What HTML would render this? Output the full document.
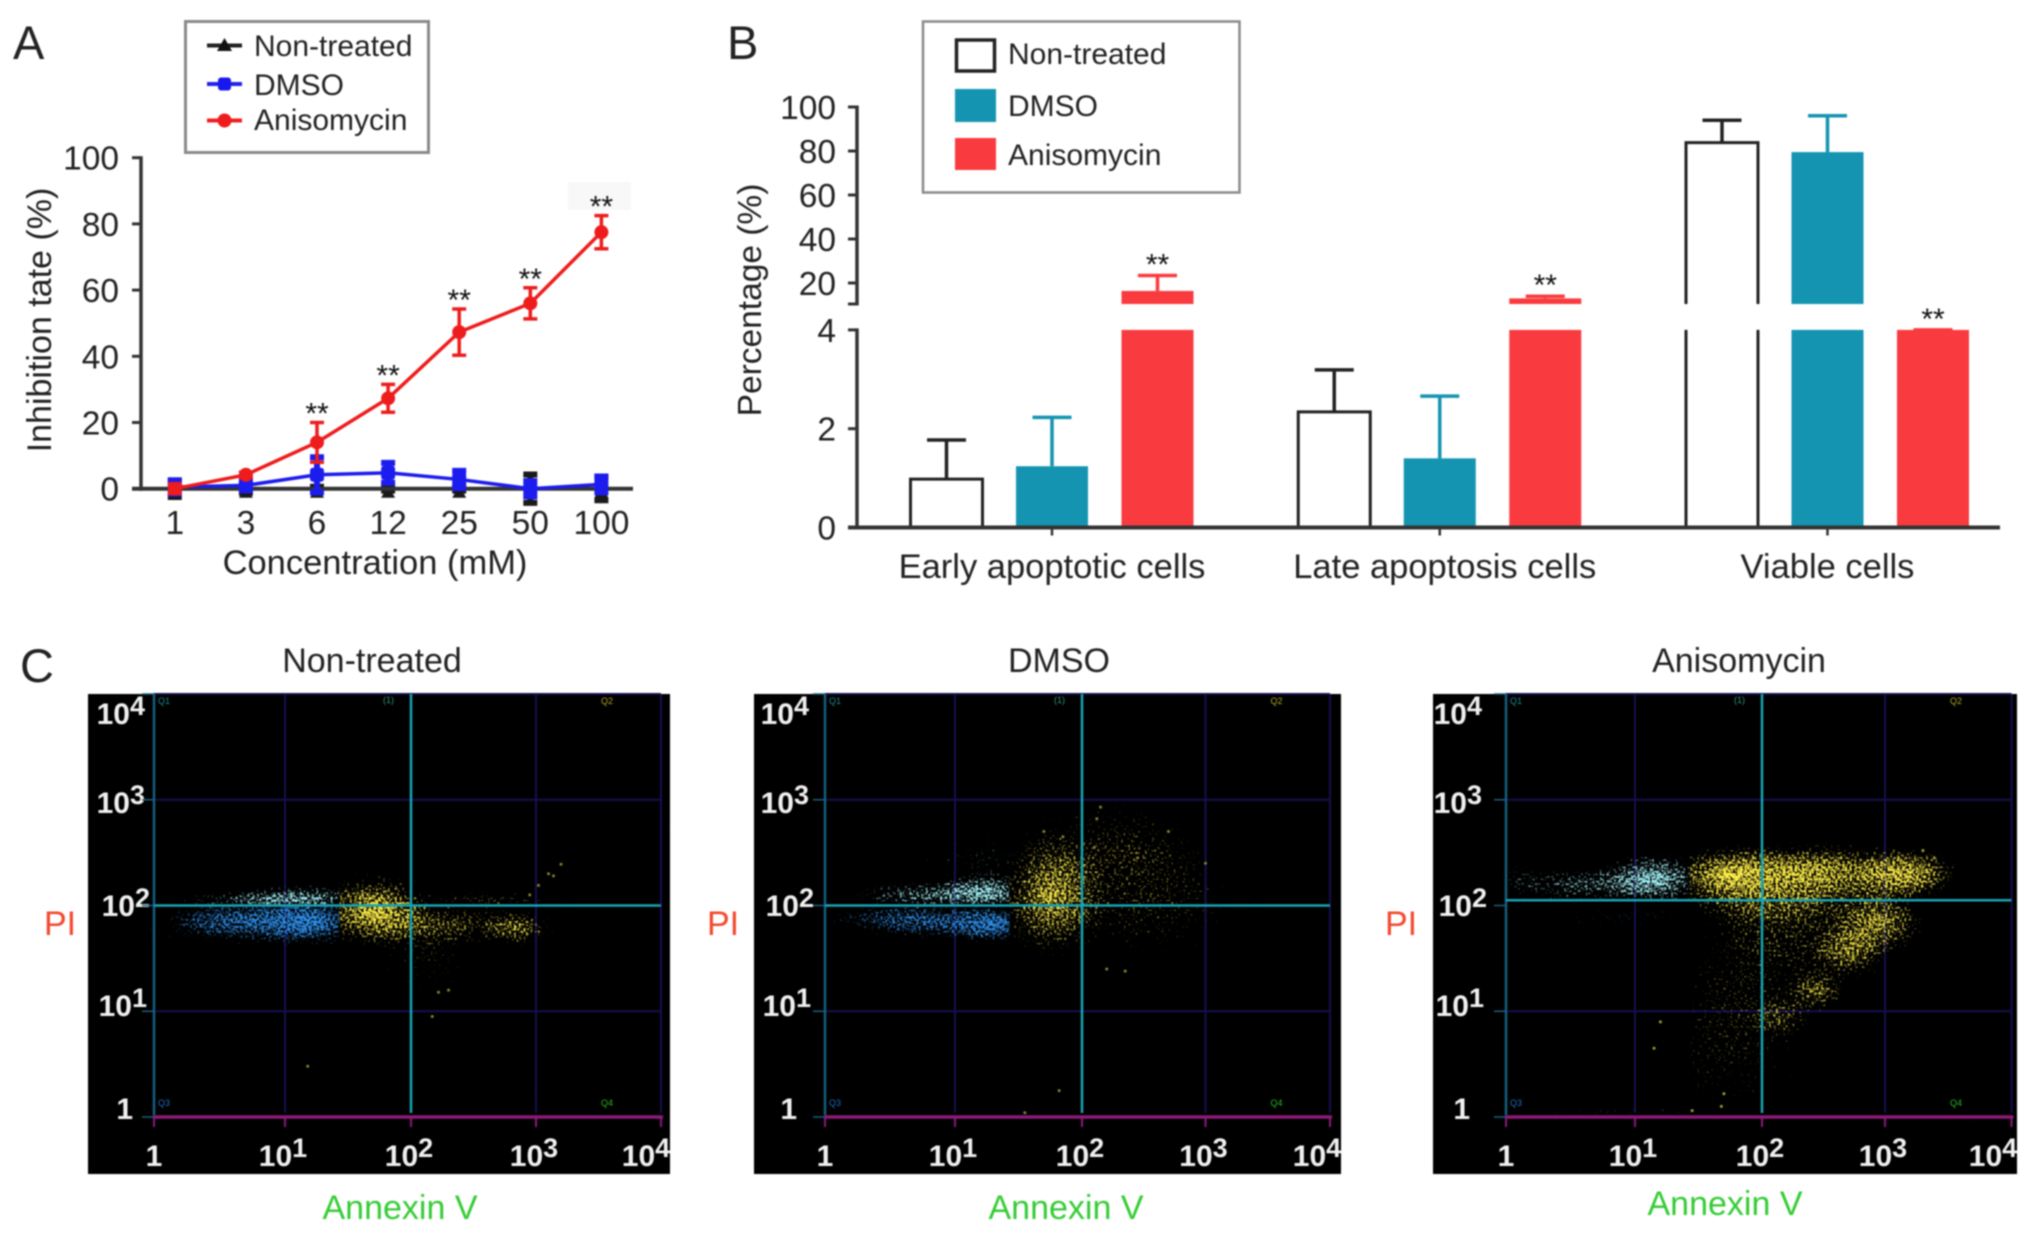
<!DOCTYPE html>
<html lang="en">
<head>
<meta charset="utf-8">
<title>Anisomycin inhibition and apoptosis figure</title>
<style>
html,body{margin:0;padding:0;background:#fff;width:2032px;height:1234px;overflow:hidden}
#figure{display:block;filter:blur(0.9px)}
text{font-family:"Liberation Sans",sans-serif;fill:#222}
.axis-title{font-size:34.5px}
.tick{font-size:33.5px}
.legend-a{font-size:30px}
.legend-b{font-size:30px}
.letter{font-size:47px}
.flow-tick{font-size:30px;font-weight:bold;fill:#f0f0f0}
.pi{font-size:34px;fill:#f2492e}
.annexin{font-size:34px;fill:#35cc35}
.stars{font-size:30px;fill:#111;text-anchor:middle}
</style>
</head>
<body>
<svg id="figure" xmlns="http://www.w3.org/2000/svg" width="2032" height="1234" viewBox="0 0 2032 1234">
<defs>
<radialGradient id="grad-density"><stop offset="0" stop-color="#fff"/><stop offset="0.5" stop-color="#fff" stop-opacity="0.62"/><stop offset="1" stop-color="#fff" stop-opacity="0"/></radialGradient>
<filter id="speckle-blue" filterUnits="userSpaceOnUse" x="0" y="0" width="2032" height="1234" color-interpolation-filters="sRGB">
<feTurbulence type="fractalNoise" baseFrequency="0.42" numOctaves="1" seed="7" result="noise"/>
<feColorMatrix in="noise" type="matrix" values="0 0 0 0 1  0 0 0 0 1  0 0 0 0 1  1 0 0 0 0" result="n"/>
<feComposite in="SourceGraphic" in2="n" operator="arithmetic" k1="0" k2="0.55" k3="1" k4="-0.8" result="sum"/>
<feComponentTransfer in="sum" result="mask"><feFuncA type="linear" slope="4"/></feComponentTransfer>
<feFlood flood-color="#2a86dc" result="ink"/>
<feComposite in="ink" in2="mask" operator="in" result="dots"/>
<feComposite in="dots" in2="SourceGraphic" operator="arithmetic" k1="0.4" k2="0.7" k3="0" k4="0"/>
</filter>
<filter id="speckle-cyan" filterUnits="userSpaceOnUse" x="0" y="0" width="2032" height="1234" color-interpolation-filters="sRGB">
<feTurbulence type="fractalNoise" baseFrequency="0.42" numOctaves="1" seed="11" result="noise"/>
<feColorMatrix in="noise" type="matrix" values="0 0 0 0 1  0 0 0 0 1  0 0 0 0 1  1 0 0 0 0" result="n"/>
<feComposite in="SourceGraphic" in2="n" operator="arithmetic" k1="0" k2="0.55" k3="1" k4="-0.8" result="sum"/>
<feComponentTransfer in="sum" result="mask"><feFuncA type="linear" slope="4"/></feComponentTransfer>
<feFlood flood-color="#9be8ee" result="ink"/>
<feComposite in="ink" in2="mask" operator="in" result="dots"/>
<feComposite in="dots" in2="SourceGraphic" operator="arithmetic" k1="0.4" k2="0.7" k3="0" k4="0"/>
</filter>
<filter id="speckle-yellow" filterUnits="userSpaceOnUse" x="0" y="0" width="2032" height="1234" color-interpolation-filters="sRGB">
<feTurbulence type="fractalNoise" baseFrequency="0.42" numOctaves="1" seed="3" result="noise"/>
<feColorMatrix in="noise" type="matrix" values="0 0 0 0 1  0 0 0 0 1  0 0 0 0 1  1 0 0 0 0" result="n"/>
<feComposite in="SourceGraphic" in2="n" operator="arithmetic" k1="0" k2="0.55" k3="1" k4="-0.8" result="sum"/>
<feComponentTransfer in="sum" result="mask"><feFuncA type="linear" slope="4"/></feComponentTransfer>
<feFlood flood-color="#f2e244" result="ink"/>
<feComposite in="ink" in2="mask" operator="in" result="dots"/>
<feComposite in="dots" in2="SourceGraphic" operator="arithmetic" k1="0.4" k2="0.7" k3="0" k4="0"/>
</filter>
</defs>

<rect x="0" y="0" width="2032" height="1234" fill="#fff"/>

<text class="letter" x="13" y="59">A</text>
<text class="letter" x="727" y="59">B</text>
<text class="letter" x="20" y="682">C</text>

<rect x="568" y="182" width="63" height="28" fill="#f8f8f8"/>
<g id="panel-a"></g>
<text class="axis-title" x="375" y="574" text-anchor="middle">Concentration (mM)</text>
<text class="axis-title" transform="translate(51 320) rotate(-90)" text-anchor="middle" style="font-size:34px">Inhibition tate (%)</text>

<g>
<rect x="185.5" y="21.5" width="243" height="131" fill="#fff" stroke="#8a8a8a" stroke-width="3"/>
<line x1="207" x2="242" y1="45.5" y2="45.5" stroke="#222" stroke-width="4"/>
<polygon points="224.5,38 232,51 217,51" fill="#111"/>
<text class="legend-a" x="254" y="56">Non-treated</text>
<line x1="207" x2="242" y1="84" y2="84" stroke="#2222ee" stroke-width="4"/>
<rect x="218" y="77.5" width="13" height="13" rx="3" fill="#1818ee"/>
<text class="legend-a" x="254" y="95">DMSO</text>
<line x1="207" x2="242" y1="120.5" y2="120.5" stroke="#f02020" stroke-width="4"/>
<circle cx="224.5" cy="120.5" r="7" fill="#ee1c1c"/>
<text class="legend-a" x="254" y="130">Anisomycin</text>
</g>

<g id="panel-b"></g>
<text class="axis-title" transform="translate(761 300) rotate(-90)" text-anchor="middle" style="font-size:33.5px">Percentage (%)</text>

<g>
<rect x="923" y="21.5" width="316.5" height="171" fill="#fff" stroke="#8a8a8a" stroke-width="2.5"/>
<rect x="956.5" y="40" width="38" height="31" fill="#fff" stroke="#222" stroke-width="3.5"/>
<text class="legend-b" x="1008" y="64">Non-treated</text>
<rect x="955" y="89" width="41" height="33" fill="#1494b0"/>
<text class="legend-b" x="1008" y="116">DMSO</text>
<rect x="955" y="138" width="41" height="32" fill="#f93b3f"/>
<text class="legend-b" x="1008" y="165">Anisomycin</text>
</g>

<g id="panel-c"></g>
<text class="axis-title" x="372" y="672" text-anchor="middle" style="font-size:34px">Non-treated</text>
<text class="axis-title" x="1059" y="672" text-anchor="middle" style="font-size:34px">DMSO</text>
<text class="axis-title" x="1739" y="672" text-anchor="middle" style="font-size:34px">Anisomycin</text>
<text class="pi" x="44" y="935">PI</text>
<text class="pi" x="707" y="935">PI</text>
<text class="pi" x="1385" y="935">PI</text>
<text class="annexin" x="400" y="1219" text-anchor="middle">Annexin V</text>
<text class="annexin" x="1066" y="1219" text-anchor="middle">Annexin V</text>
<text class="annexin" x="1725" y="1215" text-anchor="middle">Annexin V</text>
</svg>

<script>
/* ---------- Panel A data ---------- */
const concentrationLabels = ['1', '3', '6', '12', '25', '50', '100'];
const nonTreatedInhibition = [0, 0, 0, 0, 0, 0, 0];
const nonTreatedInhibitionError = [2.5, 1.2, 0.6, 0.6, 0.6, 4.3, 3.5];
const dmsoInhibition = [0.5, 1, 4.2, 4.8, 2.8, 0, 1.3];
const dmsoInhibitionError = [2, 1.5, 5.3, 3, 2.6, 2.3, 2.4];
const anisomycinInhibition = [0, 4.2, 14, 27.3, 47.3, 56, 77.5];
const anisomycinInhibitionError = [1.5, 0.8, 6, 4.2, 7, 4.7, 5];
const inhibitionSignificant = [false, false, true, true, true, true, true];
const inhibitionTicks = [0, 20, 40, 60, 80, 100];

/* ---------- Panel B data ---------- */
const cellCategories = ['Early apoptotic cells', 'Late apoptosis cells', 'Viable cells'];
const percentNonTreated = [0.98, 2.34, 83.8];
const percentNonTreatedError = [0.79, 0.85, 10.2];
const percentDmso = [1.24, 1.4, 79.5];
const percentDmsoError = [0.99, 1.26, 16.5];
const percentAnisomycin = [16.4, 13, 4];
const percentAnisomycinError = [7, 1, 0];
const percentLowerTicks = [0, 2, 4];
const percentUpperTicks = [20, 40, 60, 80, 100];

/* ---------- Panel C data: [log10 Annexin V, log10 PI, spread x, spread y, density] ---------- */
const flowExponents = [0, 1, 2, 3, 4];
const nonTreatedBlue = [[1.2,1.85,.25,.13,.95],[.75,1.85,.3,.12,.6],[.4,1.85,.25,.1,.25]];
const nonTreatedCyan = [[1.15,2.07,.3,.07,.6],[.7,2.05,.35,.05,.3]];
const nonTreatedYellow = [[1.7,1.95,.24,.18,.95],[2.35,1.82,.35,.1,.3],[2.85,1.78,.15,.09,.4],[2.6,2.05,.3,.04,.2],[2.1,1.6,.22,.22,.12]];
const nonTreatedSparse = [[2.95,2.1],[3.02,2.19],[3.1,2.3],[3.14,2.28],[3.2,2.39],[2.22,1.18],[2.3,1.2],[2.17,.95],[1.18,.48]];
const dmsoBlue = [[1.3,1.82,.2,.1,.85],[.85,1.85,.3,.1,.6],[.4,1.88,.25,.08,.25]];
const dmsoCyan = [[1.25,2.12,.22,.09,.8],[.75,2.1,.3,.07,.5],[1.2,2.4,.25,.15,.1]];
const dmsoYellow = [[1.75,2.08,.22,.3,.75],[2.5,2.1,.42,.32,.18],[2.2,2.6,.4,.22,.12]];
const dmsoSparse = [[2.15,2.93],[2.12,2.82],[1.7,2.7],[1.85,2.65],[2.7,2.7],[2.45,2.45],[3,2.4],[2.2,1.4],[2.35,1.38],[1.82,.25],[1.55,.04],[2.1,2.55]];
const anisoBlue = [[1,1.9,.4,.05,.12],[.9,.05,.6,.02,.12]];
const anisoCyan = [[1.15,2.25,.22,.13,.9],[.6,2.2,.3,.09,.4],[.1,2.25,.1,.1,.1]];
const anisoYellow = [[1.75,2.28,.28,.15,1],[2.3,2.3,.3,.16,.75],[2.9,2.3,.38,.15,.45],[3.15,2.3,.2,.12,.6],[2.95,1.85,.2,.16,.6],[2.7,1.55,.16,.13,.5],[2.45,1.2,.13,.11,.5],[2.15,.95,.13,.1,.25],[2.4,1.8,.4,.22,.22],[1.9,1.3,.3,.35,.14],[1.7,.6,.35,.3,.1],[2,2,.35,.1,.3]];
const anisoSparse = [[3.39,2.45],[3.3,2.52],[1.68,.1],[1.45,.06],[1.7,.22],[1.15,.65],[1.2,.9]];

/* ---------- helpers ---------- */
const SVG_NS = 'http://www.w3.org/2000/svg';
function make(tag, parent, attrs, content) {
  const node = document.createElementNS(SVG_NS, tag);
  for (const key in attrs) node.setAttribute(key, attrs[key]);
  if (content !== undefined) node.textContent = content;
  parent.appendChild(node);
  return node;
}

/* ---------- Panel A ---------- */
const panelA = document.getElementById('panel-a');
const yA = v => 488.7 - v * 3.31;
const xA = i => 174.8 + i * 71.1;

inhibitionTicks.forEach(t => {
  const tickMark = make('line', panelA, {x1: 132, x2: 141, y1: yA(t), y2: yA(t), stroke: '#333', 'stroke-width': 3});
  
  
  const tickLabel = make('text', panelA, {x: 119, y: yA(t) + 12, 'text-anchor': 'end', class: 'tick'}, String(t));
  
  
});
concentrationLabels.forEach((c, i) => {
  const tickLabel = make('text', panelA, {x: xA(i), y: 534, 'text-anchor': 'middle', class: 'tick'}, c);
  
  
});

function drawSeries(name, values, errors, color, marker, barStroke) {
  const group = make('g', panelA, {});
  
  
  const line = make('polyline', group, {
    points: values.map((v, i) => xA(i) + ',' + yA(v)).join(' '),
    fill: 'none', stroke: color, 'stroke-width': 3.5
  });
  
  
  values.forEach((v, i) => {
    const x = xA(i), lo = yA(v - errors[i]), hi = yA(v + errors[i]);
    const path = make('path', group, {
      d: 'M' + x + ' ' + lo + 'V' + hi + 'M' + (x - 7) + ' ' + hi + 'H' + (x + 7) + 'M' + (x - 7) + ' ' + lo + 'H' + (x + 7),
      fill: 'none', stroke: color, 'stroke-width': barStroke
    });
    
    
    let point;
    if (marker === 'circle') point = make('circle', group, {cx: x, cy: yA(v), r: 7, fill: color});
    else if (marker === 'square') point = make('rect', group, {x: x - 7, y: yA(v) - 7, width: 14, height: 14, rx: 3, fill: color});
    else point = make('polygon', group, {points: x + ',' + (yA(v) - 3) + ' ' + (x + 7) + ',' + (yA(v) + 9) + ' ' + (x - 7) + ',' + (yA(v) + 9), fill: color});
    
    
  });
}
drawSeries('non-treated', nonTreatedInhibition, nonTreatedInhibitionError, '#1a1a1a', 'triangle', 6);

const axisAY = make('line', panelA, {x1: 141, x2: 141, y1: yA(100) - 1.5, y2: yA(0) + 2, stroke: '#333', 'stroke-width': 3.5});


const axisAX = make('line', panelA, {x1: 132, x2: 633, y1: yA(0), y2: yA(0), stroke: '#333', 'stroke-width': 4});



drawSeries('dmso', dmsoInhibition, dmsoInhibitionError, '#1c1cee', 'square', 6);
drawSeries('anisomycin', anisomycinInhibition, anisomycinInhibitionError, '#ee1c1c', 'circle', 3.5);

anisomycinInhibition.forEach((v, i) => {
  if (!inhibitionSignificant[i]) return;
  const mark = make('text', panelA, {x: xA(i), y: yA(v + anisomycinInhibitionError[i]) - 16 + 17, class: 'stars'}, '**');
  
  
});

/* ---------- Panel B ---------- */
const panelB = document.getElementById('panel-b');
const BREAK_LOW = 4, BREAK_HIGH = 10.45;
const yB = v => v <= BREAK_LOW ? 527.5 - v * 49.4 : 107 + (100 - v) * 2.2;
const groupX = i => 1052 + i * 387.75;
const barWidth = 72;

percentLowerTicks.concat(percentUpperTicks).forEach(t => {
  const tickMark = make('line', panelB, {x1: 848, x2: 857, y1: yB(t), y2: yB(t), stroke: '#333', 'stroke-width': 3});
  
  
  const tickLabel = make('text', panelB, {x: 836, y: yB(t) + 12, 'text-anchor': 'end', class: 'tick'}, String(t));
  
  
});
const breakTick = make('line', panelB, {x1: 848, x2: 857, y1: yB(BREAK_HIGH), y2: yB(BREAK_HIGH), stroke: '#333', 'stroke-width': 3});


const axisBLower = make('line', panelB, {x1: 857, x2: 857, y1: yB(BREAK_LOW) - 1.5, y2: yB(0) + 2, stroke: '#333', 'stroke-width': 3.5});


const axisBUpper = make('line', panelB, {x1: 857, x2: 857, y1: yB(100) - 1.5, y2: yB(BREAK_HIGH) + 1.5, stroke: '#333', 'stroke-width': 3.5});



function drawBars(name, values, errors, offset, fill, outline) {
  values.forEach((v, i) => {
    const left = groupX(i) + offset - barWidth / 2;
    const right = left + barWidth;
    const center = left + barWidth / 2;
    const broken = v > BREAK_LOW;
    const lowerTop = yB(Math.min(v, BREAK_LOW));
    const lower = make('rect', panelB, {x: left, y: lowerTop, width: barWidth, height: yB(0) - lowerTop, fill: outline ? '#fff' : fill});
    
    
    if (broken) {
      const upper = make('rect', panelB, {x: left, y: yB(v), width: barWidth, height: yB(BREAK_HIGH) - yB(v), fill: outline ? '#fff' : fill});
      
      
    }
    if (outline) {
      const d = broken
        ? 'M' + left + ' ' + yB(0) + 'V' + yB(BREAK_LOW) + 'M' + right + ' ' + yB(0) + 'V' + yB(BREAK_LOW) +
          'M' + left + ' ' + yB(BREAK_HIGH) + 'V' + yB(v) + 'H' + right + 'V' + yB(BREAK_HIGH)
        : 'M' + left + ' ' + yB(0) + 'V' + yB(v) + 'H' + right + 'V' + yB(0);
      const border = make('path', panelB, {d: d, fill: 'none', stroke: '#222', 'stroke-width': 3});
      
      
    }
    const color = outline ? '#222' : fill;
    const errTop = yB(v + errors[i]);
    const err = make('path', panelB, {
      d: 'M' + center + ' ' + yB(v) + 'V' + errTop + 'M' + (center - 19.5) + ' ' + errTop + 'H' + (center + 19.5),
      fill: 'none', stroke: color, 'stroke-width': 3.5
    });
    
    
  });
}
drawBars('non-treated', percentNonTreated, percentNonTreatedError, -105.5, '#fff', true);
drawBars('dmso', percentDmso, percentDmsoError, 0, '#1494b0', false);
drawBars('anisomycin', percentAnisomycin, percentAnisomycinError, 105.5, '#f93b3f', false);

const axisBX = make('line', panelB, {x1: 848, x2: 2000, y1: yB(0), y2: yB(0), stroke: '#333', 'stroke-width': 4});



cellCategories.forEach((c, i) => {
  const tickMark = make('line', panelB, {x1: groupX(i), x2: groupX(i), y1: yB(0), y2: yB(0) + 8, stroke: '#333', 'stroke-width': 2.5});
  
  
  const label = make('text', panelB, {x: groupX(i) + (i === 1 ? 5 : 0), y: 578, 'text-anchor': 'middle', class: 'axis-title'}, c);
  
  
  const top = yB(percentAnisomycin[i] + percentAnisomycinError[i]);
  const mark = make('text', panelB, {x: groupX(i) + 105.5, y: top - 18 + 17, class: 'stars'}, '**');
  
  
});

/* ---------- Panel C ---------- */
const panelC = document.getElementById('panel-c');
const flowPanels = [
  {key: 'non-treated', left: 88, right: 670, ticks: [154, 285, 411, 536, 661], gate: 2, labelEnd: 145,
   blue: nonTreatedBlue, cyan: nonTreatedCyan, yellow: nonTreatedYellow, sparse: nonTreatedSparse, sparseColor: '#8a7f30'},
  {key: 'dmso', left: 754, right: 1341, ticks: [825, 955, 1082, 1205.5, 1330], gate: 2, labelEnd: 809,
   blue: dmsoBlue, cyan: dmsoCyan, yellow: dmsoYellow, sparse: dmsoSparse, sparseColor: '#8a7f30'},
  {key: 'anisomycin', left: 1433, right: 2017, ticks: [1506, 1635, 1762, 1885, 2011.5], gate: 2.05, labelEnd: 1482,
   blue: anisoBlue, cyan: anisoCyan, yellow: anisoYellow, sparse: anisoSparse, sparseColor: '#a39a36'}
];
const FRAME_TOP = 694, FRAME_BOTTOM = 1174;
const X_POP_GATE = 1.43;
const yC = v => 1117 - v * 105.75;
const yLabelBaselines = [1119, 1016, 916, 813, 724];
const yLabelShift = [-12, 2, 5, 0, 0];
const defs = document.querySelector('#figure defs');

function powerText(parent, x, y, exp, anchor, name) {
  const label = make('text', parent, {x: x, y: y, 'text-anchor': anchor, class: 'flow-tick'});
  
  
  if (exp === 0) { label.textContent = '1'; return label; }
  const base = make('tspan', label, {}, '10');
  
  
  const sup = make('tspan', label, {dy: -9, style: 'font-size:27px'}, String(exp));
  
  
  return label;
}

flowPanels.forEach((p) => {
  const xC = v => {
    const i = Math.min(3, Math.max(0, Math.floor(v)));
    return p.ticks[i] + (v - i) * (p.ticks[i + 1] - p.ticks[i]);
  };
  const g = make('g', panelC, {});
  
  

  const frame = make('rect', g, {x: p.left, y: FRAME_TOP, width: p.right - p.left, height: FRAME_BOTTOM - FRAME_TOP, fill: '#000'});
  
  

  [1, 3, 4].forEach(e => {
    const grid = make('line', g, {x1: p.ticks[0], x2: p.ticks[4], y1: yC(e), y2: yC(e), stroke: '#15104f', 'stroke-width': 2});
    
    
  });
  [1, 3, 4].forEach(e => {
    const grid = make('line', g, {x1: p.ticks[e], x2: p.ticks[e], y1: FRAME_TOP, y2: 1113, stroke: '#15104f', 'stroke-width': 2});
    
    
  });

  const gateX = xC(X_POP_GATE), gateY = yC(p.gate);
  const regions = {
    blue: [p.left, gateY, gateX - p.left, FRAME_BOTTOM - gateY],
    cyan: [p.left, FRAME_TOP, gateX - p.left, gateY - FRAME_TOP],
    yellow: [gateX, FRAME_TOP, p.right - gateX, FRAME_BOTTOM - FRAME_TOP]
  };
  ['blue', 'cyan', 'yellow'].forEach(pop => {
    const clip = make('clipPath', defs, {id: 'clip-' + p.key + '-' + pop});
    const r = regions[pop];
    make('rect', clip, {x: r[0], y: r[1], width: r[2], height: r[3]});
    const outer = make('g', g, {'clip-path': 'url(#clip-' + p.key + '-' + pop + ')'});
    
    
    const inner = make('g', outer, {filter: 'url(#speckle-' + pop + ')'});
    
    
    p[pop].forEach(b => {
      const blob = make('ellipse', inner, {
        cx: xC(b[0]), cy: yC(b[1]), rx: b[2] * 2.2 * 127, ry: b[3] * 2.2 * 106,
        fill: 'url(#grad-density)', opacity: Math.sqrt(b[4])
      });
      
      
    });
  });
  p.sparse.forEach(d => {
    const dot = make('circle', g, {cx: xC(d[0]), cy: yC(d[1]), r: 1.5, fill: p.sparseColor});
    
    
  });

  const leftAxis = make('line', g, {x1: p.ticks[0], x2: p.ticks[0], y1: FRAME_TOP, y2: 1115, stroke: '#175f80', 'stroke-width': 2.5});
  
  
  const gateV = make('line', g, {x1: p.ticks[2], x2: p.ticks[2], y1: FRAME_TOP, y2: 1113, stroke: '#18a4b4', 'stroke-width': 2.5});
  
  
  const gateH = make('line', g, {x1: p.ticks[0], x2: p.ticks[4], y1: gateY, y2: gateY, stroke: '#18a4b4', 'stroke-width': 2.5});
  
  
  const xAxis = make('line', g, {x1: p.ticks[0] - 1, x2: p.ticks[4] + 2, y1: 1117, y2: 1117, stroke: '#8c1a78', 'stroke-width': 3.5});
  
  

  flowExponents.forEach((e, i) => {
    const tickMark = make('line', g, {x1: p.ticks[i], x2: p.ticks[i], y1: 1117, y2: 1127, stroke: '#8c1a78', 'stroke-width': 2});
    
    
    const labelX = e === 4 ? p.right - 24 : (e === 0 ? p.ticks[i] : p.ticks[i] - 2);
    powerText(g, labelX, 1166, e, 'middle', 'flow-x-tick-label');
    powerText(g, p.labelEnd + yLabelShift[i], yLabelBaselines[i], e, 'end', 'flow-y-tick-label');
    const yTick = make('line', g, {x1: p.ticks[0] - 12, x2: p.ticks[0], y1: yC(e), y2: yC(e), stroke: '#175f80', 'stroke-width': 1.5});
    
    
  });

  const q1 = make('text', g, {x: p.ticks[0] + 4, y: 704, style: 'font-size:9px;fill:#1f8a94'}, 'Q1');
  
  
  const qc = make('text', g, {x: p.ticks[2] - 28, y: 703, style: 'font-size:9px;fill:#2f9a7a'}, '(1)');
  
  
  const q2 = make('text', g, {x: p.ticks[3] + 65, y: 704, style: 'font-size:9px;fill:#b0a82a'}, 'Q2');
  
  
  const q3 = make('text', g, {x: p.ticks[0] + 4, y: 1106, style: 'font-size:9px;fill:#1f6cc0'}, 'Q3');
  
  
  const q4 = make('text', g, {x: p.ticks[3] + 65, y: 1106, style: 'font-size:9px;fill:#28b828'}, 'Q4');
  
  
});
</script>
</body>
</html>
